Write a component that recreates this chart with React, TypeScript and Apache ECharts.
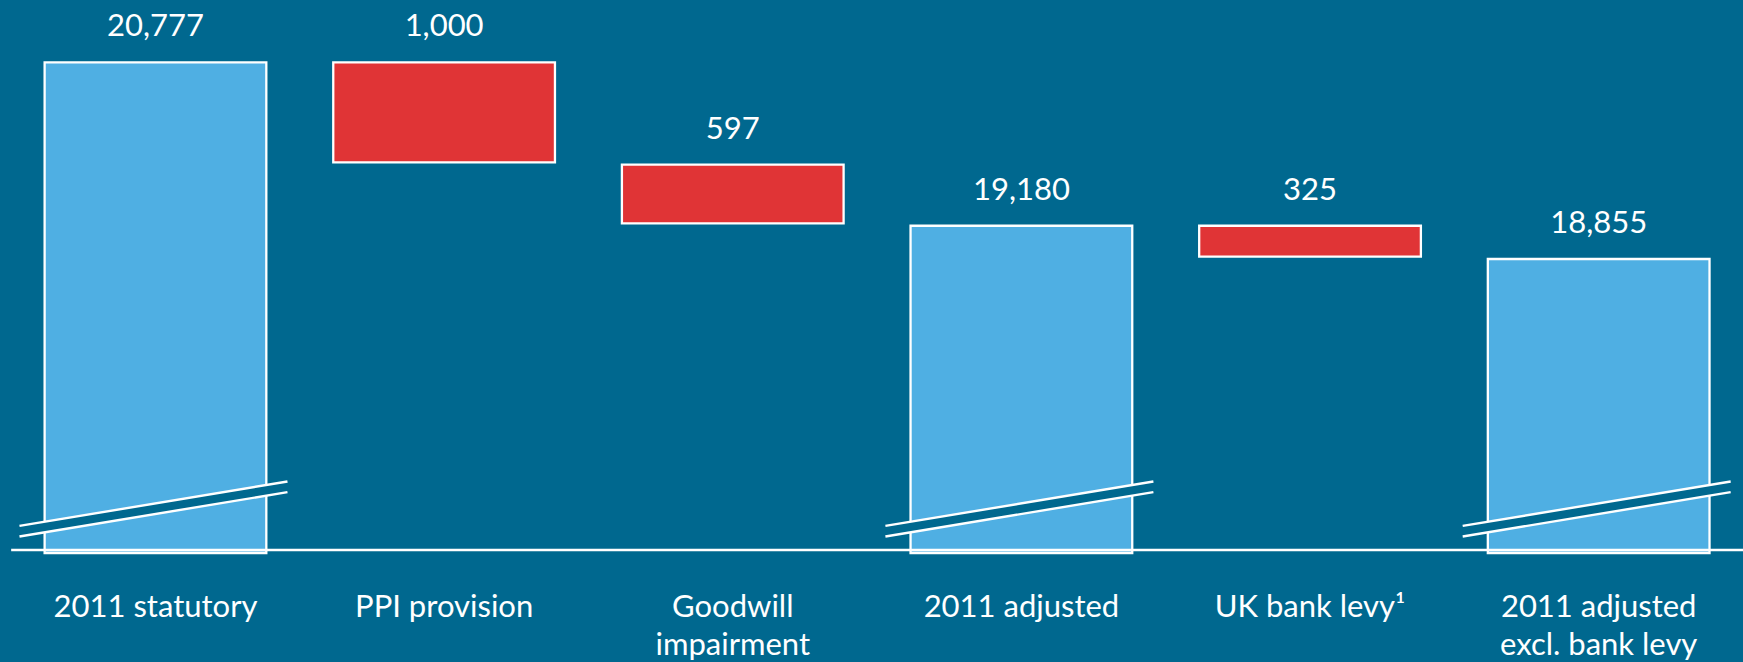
import React, { useEffect, useRef } from "react";
import * as echarts from "echarts";

// ---- data ----
const categories = [
  "2011 statutory",
  "PPI provision",
  "Goodwill\nimpairment",
  "2011 adjusted",
  "UK bank levy¹",
  "2011 adjusted\nexcl. bank levy",
];
const totals: (number | null)[] = [20777, null, null, 19180, null, 18855];
const deductions: (number | null)[] = [null, 1000, 597, null, 325, null];
const axisStart = 15970; // broken value axis
const breakValue = 16000;
const axisEnd = 21000;

// ---- style ----
const BG = "#00688f";
const BLUE = "#4fafe3";
const RED = "#e03436";
const FONT = "Lato, 'Open Sans', sans-serif";
const FONT_WEIGHT = 400;
const FONT_SIZE = 31;
const BAR_W = 224;

// invisible bases for the waterfall deductions (running total minus deduction)
function buildBases(): (number | null)[] {
  let running = 0;
  return categories.map((_, i) => {
    if (totals[i] != null) {
      running = totals[i] as number;
      return null;
    }
    if (deductions[i] != null) {
      running = running - (deductions[i] as number);
      return running;
    }
    return null;
  });
}

const fmt = (v: number) => v.toLocaleString("en-US");

export default function App() {
  const ref = useRef<HTMLDivElement>(null);
  useEffect(() => {
    if (!ref.current) return;
    const chart = echarts.init(ref.current, null, { renderer: "svg" });
    const bases = buildBases();
    const breakData = totals
      .map((v, i) => (v != null ? [i, breakValue] : null))
      .filter((d) => d != null) as number[][];

    const valueLabel = {
      show: true,
      position: "top" as const,
      distance: 21,
      color: "#ffffff",
      fontSize: FONT_SIZE,
      fontWeight: FONT_WEIGHT,
      lineHeight: 32,
      fontFamily: FONT,
      formatter: (p: any) => fmt(p.value as number),
    };

    chart.setOption({
      animation: false,
      backgroundColor: BG,
      grid: { left: 11.15, width: 1741.8, top: 38.4, bottom: 98, containLabel: false },
      xAxis: {
        type: "category",
        data: categories,
        axisLine: { show: false },
        axisTick: { show: false },
        splitLine: { show: false },
        axisLabel: {
          interval: 0,
          color: "#ffffff",
          fontSize: FONT_SIZE,
          fontWeight: FONT_WEIGHT,
          lineHeight: 38,
          fontFamily: FONT,
          margin: 33,
        },
      },
      yAxis: {
        type: "value",
        min: axisStart,
        max: axisEnd,
        show: false,
        splitLine: { show: false },
      },
      series: [
        {
          type: "bar",
          name: "base",
          stack: "w",
          data: bases.map((v) => (v == null ? "-" : v)),
          barWidth: BAR_W,
          itemStyle: { color: "rgba(0,0,0,0)", borderWidth: 0 },
          silent: true,
          label: { show: false },
        },
        {
          type: "bar",
          name: "deduction",
          stack: "w",
          data: deductions.map((v) => (v == null ? "-" : v)),
          barWidth: BAR_W,
          itemStyle: { color: RED, borderColor: "#ffffff", borderWidth: 2.3 },
          label: valueLabel,
        },
        {
          type: "bar",
          name: "total",
          data: totals.map((v) => (v == null ? "-" : v)),
          barWidth: BAR_W,
          barGap: "-100%",
          itemStyle: { color: BLUE, borderColor: "#ffffff", borderWidth: 2.3 },
          label: valueLabel,
        },
        {
          type: "custom",
          name: "break",
          z: 5,
          silent: true,
          data: breakData,
          renderItem: (params: any, api: any) => {
            const idx = api.value(0);
            const p = api.coord([idx, api.value(1)]);
            const cx = p[0];
            const by = p[1];
            const half = BAR_W / 2;
            const x1 = cx - half - 24;
            const x2 = cx + half + 20;
            const u1 = by - 24;
            const u2 = by - 68.4;
            const gap = 10.6;
            return {
              type: "group",
              children: [
                {
                  type: "polygon",
                  shape: { points: [[x1, u1], [x2, u2], [x2, u2 + gap], [x1, u1 + gap]] },
                  style: { fill: BG },
                },
                {
                  type: "line",
                  shape: { x1, y1: u1, x2, y2: u2 },
                  style: { stroke: "#ffffff", lineWidth: 2.4 },
                },
                {
                  type: "line",
                  shape: { x1, y1: u1 + gap, x2, y2: u2 + gap },
                  style: { stroke: "#ffffff", lineWidth: 2.4 },
                },
              ],
            };
          },
          markLine: {
            silent: true,
            symbol: ["none", "none"],
            label: { show: false },
            lineStyle: { color: "#ffffff", width: 2.4, type: "solid" },
            data: [{ yAxis: breakValue }],
          },
        },
      ],
    });
    return () => chart.dispose();
  }, []);

  return (
    <div
      ref={ref}
      style={{ position: "fixed", left: 0, top: 0, width: 1743, height: 662, background: BG }}
    />
  );
}
